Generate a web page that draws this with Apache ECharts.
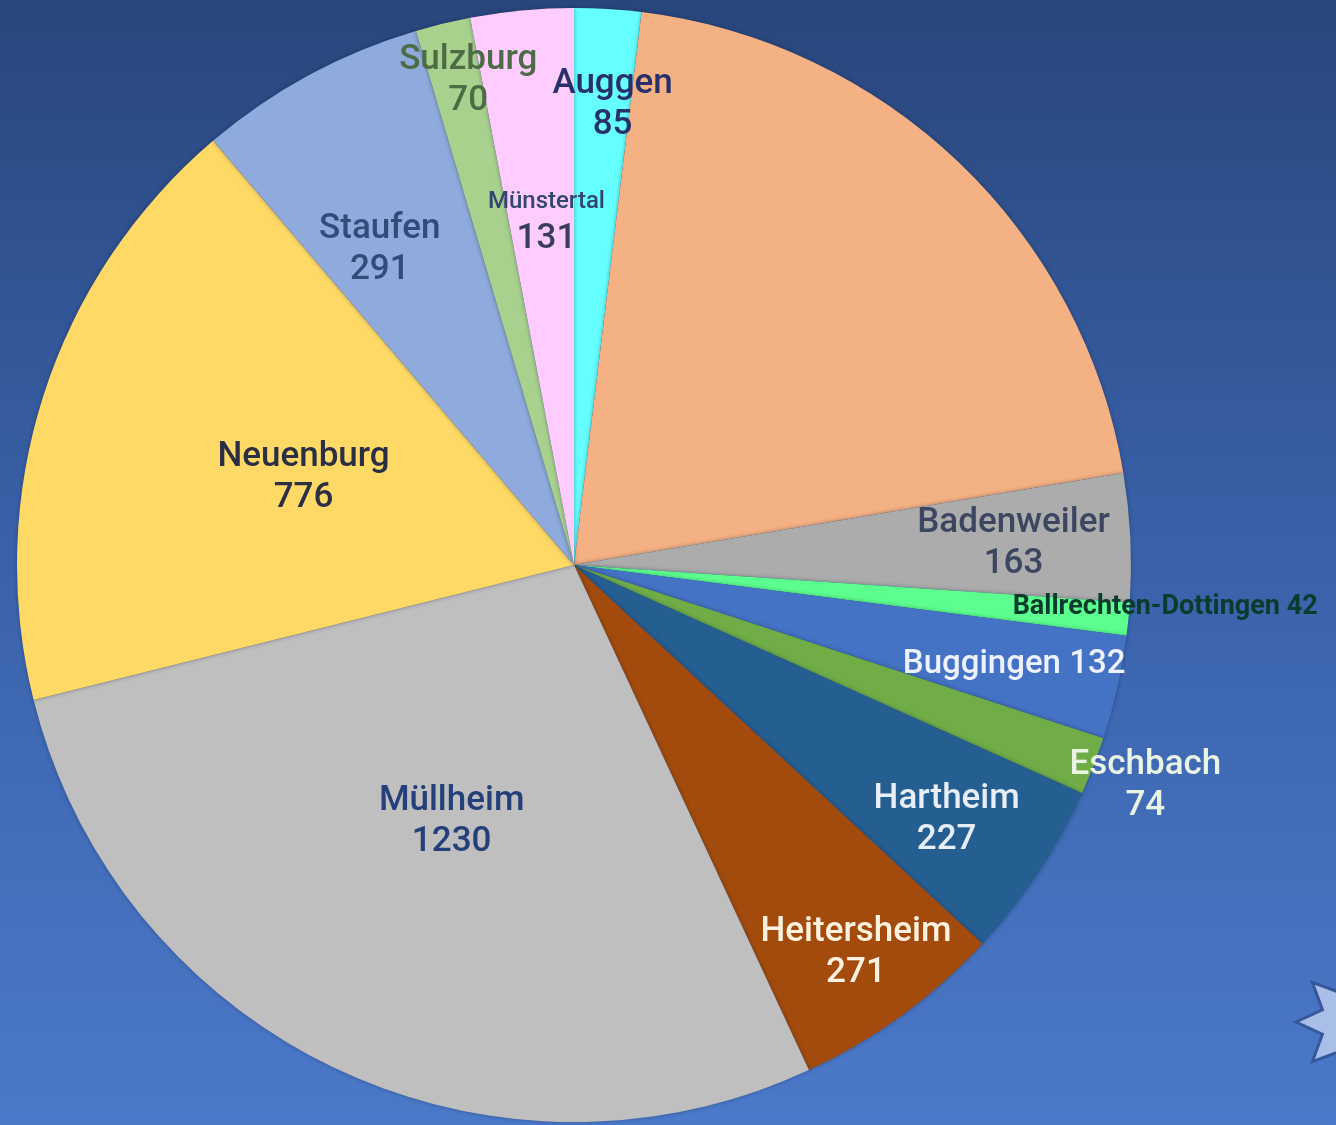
<!DOCTYPE html>
<html>
<head>
<meta charset="utf-8">
<title>Gemeinden</title>
<script src="https://cdn.jsdelivr.net/npm/echarts@6/dist/echarts.min.js"></script>
<style>
  html, body { margin: 0; padding: 0; }
  #chart { width: 1336px; height: 1125px; }
</style>
</head>
<body>
<div id="chart"></div>
<script>
// data, clockwise from 12 o'clock
const towns = ['Auggen', 'Bad Krozingen', 'Badenweiler', 'Ballrechten-Dottingen', 'Buggingen', 'Eschbach',
  'Hartheim', 'Heitersheim', 'Müllheim', 'Neuenburg', 'Staufen', 'Sulzburg', 'Münstertal']
const values = [85, 896, 163, 42, 132, 74, 227, 271, 1230, 776, 291, 70, 131]

// slice colours
const colors = ['#66ffff', '#f4b183', '#acacac', '#5cff8f', '#4472c4', '#70ad47',
  '#255e91', '#a24b0c', '#bfbfbf', '#ffd966', '#8faadc', '#a9d18e', '#ffccff']

// label look: text colour, distance from centre (share of radius), small turn (deg)
const labelCfg = [
  { color: '#27306b', r: 0.83, da: 1.3 },
  { show: false },
  { color: '#3b4660', r: 0.79 },
  { color: '#0b3b2c', r: 1.064, da: -1.5, oneLine: true, size: 27, weight: 'bold' },
  { color: '#eef2ff', r: 0.81, oneLine: true, size: 33 },
  { color: '#eaf4e4', r: 1.10 },
  { color: '#e8eef8', r: 0.81, da: 0.8 },
  { color: '#fff2e0', r: 0.86 },
  { color: '#24407a', r: 0.51 },
  { color: '#2b2f45', r: 0.51 },
  { color: '#324c7a', r: 0.665, da: -3.2 },
  { color: '#4d6b45', r: 0.89, da: 1.3 },
  { color: '#33466e', r: 0.62, da: 0.8, smallName: true }
]

const CX = 574, CY = 565, R = 557
const total = values.reduce((a, b) => a + b, 0)

function midAngle(i) {
  let before = 0
  for (let j = 0; j < i; j++) before += values[j]
  return (before + values[i] / 2) / total * Math.PI * 2
}

function starPoints(cx, cy, ro, ri, n) {
  const pts = []
  for (let k = 0; k < n * 2; k++) {
    const a = Math.PI * k / n
    const rr = k % 2 === 0 ? ro : ri
    pts.push([cx + rr * Math.cos(a), cy + rr * Math.sin(a)])
  }
  return pts
}

const font = 'Roboto, "Noto Sans", sans-serif'

const seriesData = towns.map((name, i) => {
  const c = labelCfg[i]
  const label = { show: c.show !== false, color: c.color, fontSize: c.size || 35 }
  if (c.weight) label.fontWeight = c.weight
  if (c.oneLine) {
    label.formatter = '{b} {c}'
  } else if (c.smallName) {
    label.formatter = '{s|{b}}\n{v|{c}}'
    label.rich = {
      s: { fontSize: 24, color: c.color, fontFamily: font, fontWeight: 500, lineHeight: 36 },
      v: { fontSize: 35, color: '#3a3d5e', fontFamily: font, fontWeight: 500, lineHeight: 38 }
    }
  }
  return {
    name: name,
    value: values[i],
    itemStyle: { color: colors[i] },
    label: label
  }
})

const chart = echarts.init(document.getElementById('chart'))
chart.setOption({
  backgroundColor: new echarts.graphic.LinearGradient(0, 0, 0, 1, [
    { offset: 0, color: '#29467c' },
    { offset: 0.5, color: '#3a62aa' },
    { offset: 1, color: '#4b79c9' }
  ]),
  animation: false,
  graphic: [{
    type: 'polygon',
    shape: { points: starPoints(1352, 1022, 56, 32, 8) },
    style: { fill: '#a9bfe8', stroke: '#36579a', lineWidth: 3 }
  }],
  series: [{
    type: 'pie',
    center: [CX, CY],
    radius: R,
    startAngle: 90,
    clockwise: true,
    avoidLabelOverlap: false,
    itemStyle: {
      borderWidth: 0,
      shadowBlur: 4,
      shadowColor: 'rgba(10, 20, 50, 0.35)'
    },
    label: {
      position: 'inside',
      formatter: '{b}\n{c}',
      fontFamily: font,
      fontWeight: 500,
      fontSize: 35,
      lineHeight: 41
    },
    labelLine: { show: false },
    labelLayout: function (p) {
      const i = p.dataIndex
      const c = labelCfg[i]
      const a = midAngle(i) + (c.da || 0) * Math.PI / 180
      const k = c.r || 0.5
      return {
        x: CX + k * R * Math.sin(a),
        y: CY - k * R * Math.cos(a),
        align: 'center',
        verticalAlign: 'middle'
      }
    },
    data: seriesData
  }]
})
</script>
</body>
</html>
